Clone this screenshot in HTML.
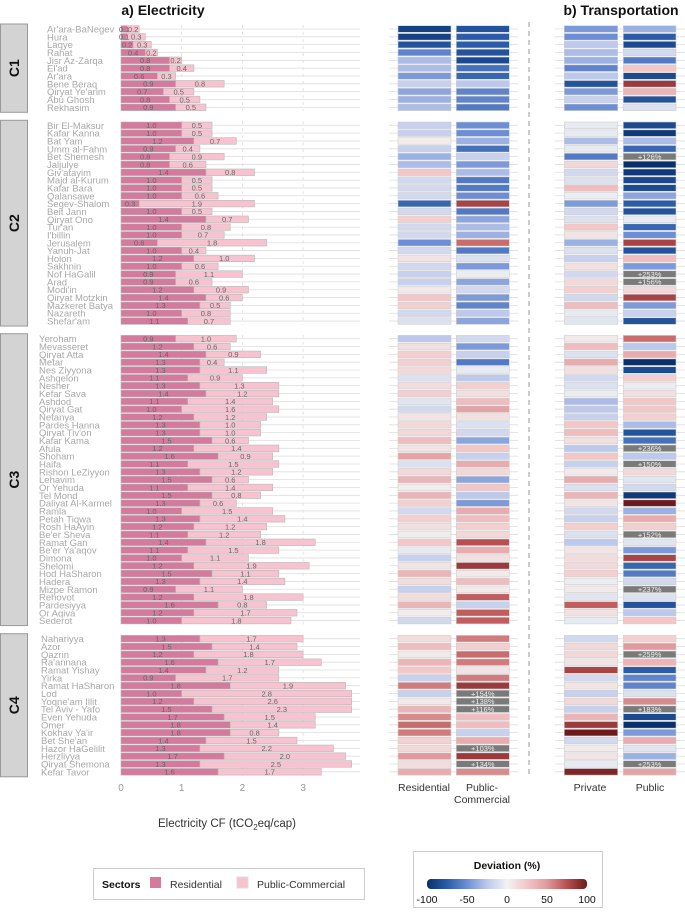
<!DOCTYPE html>
<html><head><meta charset="utf-8"><style>
body{margin:0;background:#fff;width:685px;height:918px;overflow:hidden}
svg{font-family:"Liberation Sans",sans-serif}
</style></head><body>
<svg id="c" width="685" height="918" xmlns="http://www.w3.org/2000/svg"></svg>
<script>
const clusterNames=["C1","C2","C3","C4"];
const cities=[
["Ar'ara-BaNegev","Hura","Laqye","Rahat","Jisr Az-Zarqa","El'ad","Ar'ara","Bene Beraq","Qiryat Ye'arim","Abu Ghosh","Rekhasim"],
["Bir El-Maksur","Kafar Kanna","Bat Yam","Umm al-Fahm","Bet Shemesh","Jaljulye","Giv'atayim","Majd al-Kurum","Kafar Bara","Qalansawe","Segev-Shalom","Beit Jann","Qiryat Ono","Tur'an","I'billin","Jerusalem","Yanuh-Jat","Holon","Sakhnin","Nof HaGalil","Arad","Modi'in","Qiryat Motzkin","Mazkeret Batya","Nazareth","Shefar'am"],
["Yeroham","Mevasseret","Qiryat Atta","Metar","Nes Ziyyona","Ashqelon","Nesher","Kefar Sava","Ashdod","Qiryat Gat","Netanya","Pardes Hanna","Qiryat Tiv'on","Kafar Kama","Afula","Shoham","Haifa","Rishon LeZiyyon","Lehavim","Or Yehuda","Tel Mond","Daliyat Al-Karmel","Ramla","Petah Tiqwa","Rosh HaAyin","Be'er Sheva","Ramat Gan","Be'er Ya'aqov","Dimona","Shelomi","Hod HaSharon","Hadera","Mizpe Ramon","Rehovot","Pardesiyya","Or Aqiva","Sederot"],
["Nahariyya","Azor","Qazrin","Ra'annana","Ramat Yishay","Yirka","Ramat HaSharon","Lod","Yoqne'am Illit","Tel Aviv - Yafo","Even Yehuda","Omer","Kokhav Ya'ir","Bet She'an","Hazor HaGelilit","Herzliyya","Qiryat Shemona","Kefar Tavor"]];
const residential=[
[0.1,0.1,0.2,0.4,0.8,0.8,0.6,0.9,0.7,0.8,0.9],
[1.0,1.0,1.2,0.9,0.8,0.8,1.4,1.0,1.0,1.0,0.3,1.0,1.4,1.0,1.0,0.6,1.0,1.2,1.0,0.9,0.9,1.2,1.4,1.3,1.0,1.1],
[0.9,1.2,1.4,1.3,1.3,1.1,1.3,1.4,1.1,1.0,1.2,1.3,1.3,1.5,1.2,1.6,1.1,1.3,1.5,1.1,1.5,1.3,1.0,1.3,1.2,1.1,1.4,1.1,1.0,1.2,1.5,1.3,0.9,1.2,1.6,1.2,1.0],
[1.3,1.5,1.2,1.6,1.4,0.9,1.8,1.0,1.2,1.5,1.7,1.8,1.8,1.4,1.3,1.7,1.3,1.6]];
const publicCommercial=[
[0.2,0.3,0.3,0.2,0.2,0.4,0.3,0.8,0.5,0.5,0.5],
[0.5,0.5,0.7,0.4,0.9,0.6,0.8,0.5,0.5,0.6,1.9,0.5,0.7,0.8,0.7,1.8,0.4,1.0,0.6,1.1,0.6,0.9,0.6,0.5,0.8,0.7],
[1.0,0.6,0.9,0.4,1.1,0.9,1.3,1.2,1.4,1.6,1.2,1.0,1.0,0.6,1.4,0.9,1.5,1.2,0.6,1.4,0.8,0.6,1.5,1.4,1.2,1.2,1.8,1.5,1.1,1.9,1.1,1.4,1.1,1.8,0.8,1.7,1.8],
[1.7,1.4,1.8,1.7,1.2,1.7,1.9,2.8,2.6,2.3,1.5,1.4,0.8,1.5,2.2,2.0,2.5,1.7]];
const devResidential=[
[-90,-90,-80,-55,-30,-30,-45,-20,-40,-35,-30],
[-20,-20,3,-20,-35,-30,25,-15,-15,-15,-70,-15,20,-15,-15,-50,-15,8,-15,-20,-20,5,25,20,-15,-10],
[-25,10,20,20,15,-10,12,20,-8,-15,8,15,15,30,8,45,-10,15,35,3,35,20,-15,20,10,3,25,-5,-20,8,35,12,-20,12,35,3,-15],
[12,30,5,35,25,-20,60,-20,5,35,55,65,60,20,15,50,12,40]];
const devPublicCommercial=[
[-80,-75,-75,-80,-85,-65,-70,-25,-55,-55,-60],
[-50,-50,-35,-65,-20,-45,-30,-60,-60,-50,80,-60,-40,-30,-35,65,-60,-10,-45,-3,-40,-15,-45,-55,-25,-40],
[-15,-45,-20,-60,-5,-25,20,10,30,45,10,-10,-15,-40,25,-20,40,15,-40,25,-25,-45,40,30,20,15,75,40,10,85,5,30,5,70,-20,70,70],
[60,20,65,60,8,60,85,154,138,116,30,30,-20,40,103,85,134,55]];
const devPrivate=[
[-45,-50,-25,-30,-35,-55,-25,-80,-45,-20,-50],
[-5,-5,-30,-5,-60,15,-15,-10,30,-3,-45,-15,-10,25,8,-35,-10,-20,10,-15,15,20,-15,30,-5,-8],
[5,30,-10,40,10,-15,-10,-3,-30,-25,-20,25,30,10,-25,25,-20,5,40,-10,35,8,-15,-20,20,-10,-25,8,12,15,20,-3,5,-8,70,10,-5],
[-15,15,15,8,80,-15,8,-20,15,-20,35,85,100,-15,5,8,-5,95]];
const devPublic=[
[-35,-75,-85,-15,-60,25,-85,85,35,-80,-10],
[-85,-95,-30,-70,126,-100,-95,-85,-85,-40,-75,-80,-5,-70,-50,80,-80,30,-45,253,156,15,80,-45,-20,-80],
[65,-25,40,-100,-85,20,-3,10,25,25,20,-30,-80,-65,236,-25,150,15,-8,-15,-95,100,-35,40,20,152,-8,-45,80,-70,-60,-15,237,-10,-80,-25,25],
[20,50,259,35,-75,-55,-55,-10,55,183,-85,-100,-45,40,-8,-35,253,45]];

const svg=document.getElementById('c');
const NS='http://www.w3.org/2000/svg';
function el(t,a,txt){const e=document.createElementNS(NS,t);for(const k in a)e.setAttribute(k,a[k]);if(txt!==undefined)e.textContent=txt;svg.appendChild(e);return e;}
const X0=121, PXU=60.7;
const xs=v=>X0+v*PXU;
const clusterStart=[29,125.3,338.7,638.7];
const STEP=7.83;
const nameX=[47,47,39,41];
const stops=[[-100,[8,48,107]],[-75,[42,92,170]],[-50,[108,142,214]],[-25,[188,200,236]],[0,[242,242,242]],[25,[243,198,200]],[50,[224,154,156]],[75,[184,79,80]],[100,[110,26,29]]];
function col(v){v=Math.max(-100,Math.min(100,v));for(let i=0;i<stops.length-1;i++){const [a,ca]=stops[i],[b,cb]=stops[i+1];if(v<=b){const t=(v-a)/(b-a);return 'rgb('+ca.map((c,j)=>Math.round(c+(cb[j]-c)*t)).join(',')+')';}}}

let e=el('text',{x:163,y:15,'font-size':14,'font-weight':'bold','text-anchor':'middle',fill:'#111'},'a) Electricity');


e=el('text',{x:621,y:15,'font-size':14,'font-weight':'bold','text-anchor':'middle',fill:'#111'},'b) Transportation');



[1,2,3].forEach(t=>{
  clusterStart.forEach((y0,c)=>{
    const n=cities[c].length;
    const g=el('line',{x1:xs(t),x2:xs(t),y1:y0-4,y2:y0+(n-1)*STEP+4,stroke:'#ddd','stroke-width':0.8,'stroke-dasharray':'3,4'});
    
    
  });
});
e=el('line',{x1:529,x2:529,y1:22,y2:778,stroke:'#aaa','stroke-width':1.2,'stroke-dasharray':'5,4'});



const hcols=[[398,53,devResidential],[456.3,53,devPublicCommercial],[564.3,53.4,devPrivate],[623.3,52.7,devPublic]];
clusterStart.forEach((y0,c)=>{
  const n=cities[c].length;
  const box=el('rect',{x:0.5,y:y0-5,width:27,height:(n-1)*STEP+10,fill:'#d3d3d3',stroke:'#999','stroke-width':1});
  
  
  const cy=y0+(n-1)*STEP/2;
  const lab=el('text',{x:14,y:cy,'font-size':14,'font-weight':'bold','text-anchor':'middle','dominant-baseline':'central',transform:'rotate(-90 14 '+cy+')',fill:'#111'},clusterNames[c]);
  
  
  for(let i=0;i<n;i++){
    const y=y0+i*STEP;
    [[121,360],[389,518],[555,685]].forEach(([a,b])=>{
      const g=el('line',{x1:a,x2:b,y1:y,y2:y,stroke:'#ddd','stroke-width':0.8});
      
      
    });
    const t=el('text',{x:nameX[c],y:y+3.5,'font-size':9.5,fill:'#a8a8a8'},cities[c][i]);
    
    
    const r=residential[c][i], p=publicCommercial[c][i];
    const b1=el('rect',{x:xs(0),y:y-3.3,width:r*PXU,height:6.6,fill:'#d47a9c',stroke:'#b0b0b0','stroke-width':0.6});
    
    
    const b2=el('rect',{x:xs(r),y:y-3.3,width:p*PXU,height:6.6,fill:'#f7c3d0',stroke:'#b8b8b8','stroke-width':0.6});
    
    
    const l1=el('text',{x:xs(r/2),y:y+2.8,'font-size':7.5,'text-anchor':'middle',fill:'#666'},r.toFixed(1));
    
    
    const l2=el('text',{x:xs(r+p/2),y:y+2.8,'font-size':7.5,'text-anchor':'middle',fill:'#666'},p.toFixed(1));
    
    
    hcols.forEach(([hx,hw,arr],k)=>{
      const v=arr[c][i];
      const over=v>100;
      const cell=el('rect',{x:hx,y:y-3.3,width:hw,height:6.6,fill:over?'#7a7a7a':col(v),stroke:'#cfcfcf','stroke-width':0.6});
      
      
      if(over){
        const tl=el('text',{x:hx+hw/2,y:y+2.8,'font-size':7.5,'text-anchor':'middle',fill:'#eee'},'+'+v+'%');
        
        
      }
    });
  }
});

const ticks=[0,1,2,3];
ticks.forEach(t=>{
  const tx=el('text',{x:xs(t),y:791,'font-size':10,'text-anchor':'middle',fill:'#999'},String(t));
  
  
});
e=el('text',{x:227,y:827,'font-size':11.5,'text-anchor':'middle',fill:'#333'});


e.innerHTML='Electricity CF (tCO<tspan font-size="8" dy="3">2</tspan><tspan dy="-3">eq/cap)</tspan>';

[["Residential",424,791],["Public-",482,791],["Commercial",482,803],["Private",590,791],["Public",650,791]].forEach(([s,x,y])=>{
  const t=el('text',{x:x,y:y,'font-size':10.5,'text-anchor':'middle',fill:'#333'},s);
  
  
});

e=el('rect',{x:93.5,y:868.5,width:271,height:31,fill:'#fff',stroke:'#ccc','stroke-width':1});


e=el('text',{x:102,y:888,'font-size':10.5,'font-weight':'bold',fill:'#111'},'Sectors');


e=el('rect',{x:150,y:877,width:11,height:11,fill:'#d47a9c'});


e=el('text',{x:170,y:888,'font-size':10.5,fill:'#333'},'Residential');


e=el('rect',{x:237,y:877,width:11,height:11,fill:'#f7c3d0',stroke:'#ddd'});


e=el('text',{x:257,y:888,'font-size':10.5,fill:'#333'},'Public-Commercial');



e=el('rect',{x:413.5,y:851.5,width:189,height:56,fill:'#fff',stroke:'#ccc','stroke-width':1});


e=el('text',{x:507,y:869,'font-size':10.5,'font-weight':'bold','text-anchor':'middle',fill:'#111'},'Deviation (%)');


const defs=el('defs',{});
const lg=document.createElementNS(NS,'linearGradient');lg.setAttribute('id','gr');defs.appendChild(lg);
stops.forEach(([v,c])=>{const s=document.createElementNS(NS,'stop');s.setAttribute('offset',((v+100)/2)+'%');s.setAttribute('stop-color','rgb('+c.join(',')+')');lg.appendChild(s);});
e=el('rect',{x:427,y:879,width:160,height:10,rx:4,fill:'url(#gr)'});


[-100,-50,0,50,100].forEach(v=>{
  const t=el('text',{x:507+v*0.8,y:903,'font-size':10.5,'text-anchor':'middle',fill:'#111'},String(v));
  
  
});
</script>
</body></html>
